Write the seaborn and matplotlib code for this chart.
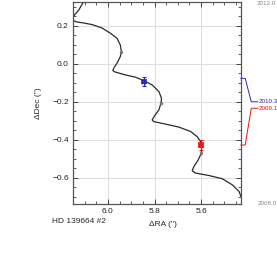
import matplotlib
matplotlib.use("Agg")
import matplotlib.pyplot as plt
import seaborn as sns
import pandas as pd
from matplotlib.ticker import MultipleLocator

# predicted track of the background star
track_ra = [6.100, 6.125, 6.143, 6.151, 6.147, 6.135, 6.111, 6.068, 6.025, 5.990,
            5.961, 5.947, 5.942, 5.947, 5.961, 5.975, 5.979, 5.971, 5.925, 5.882,
            5.846, 5.810, 5.781, 5.770, 5.772, 5.781, 5.799, 5.810, 5.803, 5.753,
            5.695, 5.645, 5.617, 5.602, 5.598, 5.599, 5.612, 5.631, 5.638, 5.624,
            5.566, 5.509, 5.466, 5.437, 5.426, 5.419]
track_dec = [0.337, 0.284, 0.258, 0.241, 0.228, 0.221, 0.217, 0.207, 0.189, 0.162,
             0.135, 0.100, 0.065, 0.038, 0.004, -0.023, -0.035, -0.042, -0.058, -0.070,
             -0.088, -0.111, -0.146, -0.181, -0.205, -0.242, -0.272, -0.295, -0.304, -0.317,
             -0.333, -0.356, -0.383, -0.409, -0.444, -0.470, -0.505, -0.541, -0.563, -0.575,
             -0.588, -0.605, -0.637, -0.672, -0.707, -0.742]

# yearly markers on the track
epoch_ra = [5.942, 5.772, 5.599]
epoch_dec = [0.065, -0.205, -0.470]

# measured positions
obs_epoch = ["2010.3", "2009.1"]
obs_ra = [5.846, 5.601]
obs_dec = [-0.093, -0.425]
obs_err_ra = [0.006, 0.006]
obs_err_dec = [0.026, 0.026]
obs_color = ["#2a2aa8", "#f01010"]

sns.set_style("ticks")
plt.rcParams["font.family"] = ["Liberation Sans", "DejaVu Sans"]

fig = plt.figure(figsize=(2.77, 2.69), dpi=100)
ax = fig.add_axes([0.2635, 0.2416, 0.6054, 0.751])

track = pd.DataFrame({"ra": track_ra, "dec": track_dec})
sns.lineplot(data=track, x="ra", y="dec", sort=False, estimator=None,
             color="#2a2a2a", linewidth=0.9, solid_joinstyle="round", ax=ax)
sns.scatterplot(x=epoch_ra, y=epoch_dec, color="#777777", s=6, linewidth=0,
                ax=ax, zorder=3)

for i in range(len(obs_ra)):
    ax.errorbar(obs_ra[i], obs_dec[i], xerr=obs_err_ra[i], yerr=obs_err_dec[i],
                color=obs_color[i], capsize=1.5, elinewidth=0.8, capthick=0.8,
                zorder=4)
sns.scatterplot(x=obs_ra, y=obs_dec, hue=obs_epoch, palette=obs_color,
                marker="s", s=18, edgecolor=None, linewidth=0, alpha=0.85,
                legend=False, ax=ax, zorder=5)

ax.set_xlim(6.15, 5.43)
ax.set_ylim(-0.738, 0.326)
ax.xaxis.set_major_locator(MultipleLocator(0.2))
ax.xaxis.set_minor_locator(MultipleLocator(0.05))
ax.yaxis.set_major_locator(MultipleLocator(0.2))
ax.yaxis.set_minor_locator(MultipleLocator(0.05))
ax.grid(True, which="major", color="#dddddd", linewidth=0.7)
ax.set_axisbelow(True)

ax.tick_params(which="both", direction="in", top=True, right=True,
               colors="#444444", labelcolor="#222222", labelsize=6)
ax.tick_params(which="major", length=3.5, width=0.7, pad=3)
ax.tick_params(which="minor", length=2, width=0.6)
for sp in ax.spines.values():
    sp.set_color("#555555")
    sp.set_linewidth(0.9)

ax.set_xlabel("ΔRA ('')", fontsize=6)
ax.set_ylabel("ΔDec ('')", fontsize=6)
ax.xaxis.set_label_coords(0.537, -0.084)
ax.yaxis.set_label_coords(-0.185, 0.5)

fig.text(0.188, 0.178, "HD 139664 #2", fontsize=6, ha="left", va="center")

# epoch connectors on the right-hand side
ax.plot([1.0, 1.027, 1.063, 1.103], [0.622, 0.622, 0.506, 0.506],
        transform=ax.transAxes, clip_on=False, color=obs_color[0], lw=0.7)
ax.plot([1.0, 1.027, 1.063, 1.103], [0.292, 0.292, 0.474, 0.474],
        transform=ax.transAxes, clip_on=False, color=obs_color[1], lw=0.7)
ax.text(1.105, 0.506, obs_epoch[0], transform=ax.transAxes, color=obs_color[0],
        fontsize=4.5, va="center", ha="left")
ax.text(1.105, 0.474, obs_epoch[1], transform=ax.transAxes, color=obs_color[1],
        fontsize=4.5, va="center", ha="left")
ax.text(1.097, 0.992, "2012.0", transform=ax.transAxes, color="#888888",
        fontsize=4.5, va="center", ha="left")
ax.text(1.103, 0.003, "2008.0", transform=ax.transAxes, color="#888888",
        fontsize=4.5, va="center", ha="left")

fig.savefig("out.png", dpi=100)
